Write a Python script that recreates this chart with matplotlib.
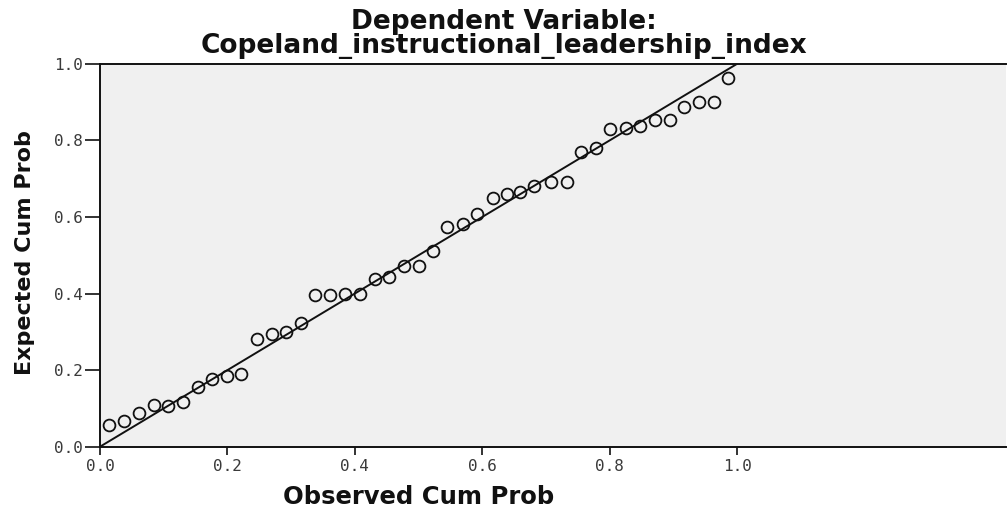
import matplotlib
matplotlib.use("Agg")
import matplotlib.pyplot as plt

observed = [0.014, 0.038, 0.061, 0.084, 0.107, 0.131, 0.153, 0.176, 0.200, 0.222,
            0.246, 0.270, 0.292, 0.315, 0.338, 0.361, 0.385, 0.408, 0.431, 0.454,
            0.477, 0.500, 0.523, 0.545, 0.569, 0.592, 0.616, 0.638, 0.659, 0.681,
            0.707, 0.732, 0.755, 0.779, 0.801, 0.825, 0.848, 0.871, 0.895, 0.917,
            0.940, 0.963, 0.986]
expected = [0.057, 0.068, 0.089, 0.109, 0.107, 0.116, 0.157, 0.176, 0.185, 0.190,
            0.282, 0.295, 0.300, 0.324, 0.395, 0.397, 0.400, 0.399, 0.438, 0.443,
            0.472, 0.473, 0.512, 0.573, 0.581, 0.608, 0.649, 0.659, 0.666, 0.681,
            0.691, 0.691, 0.769, 0.781, 0.829, 0.832, 0.838, 0.852, 0.852, 0.886,
            0.899, 0.901, 0.962]
ref_line = [0.0, 1.0]
ticks = [0.0, 0.2, 0.4, 0.6, 0.8, 1.0]
tick_labels = ["0.0", "0.2", "0.4", "0.6", "0.8", "1.0"]
title_lines = ["Dependent Variable:", "Copeland_instructional_leadership_index"]
x_label = "Observed Cum Prob"
y_label = "Expected Cum Prob"

plt.rcParams['font.family'] = ['DejaVu Sans']

W, H = 1008, 508
fig = plt.figure(figsize=(W / 100, H / 100), dpi=100)
ax = fig.add_axes([100 / W, 61.3 / H, 906 / W, 383 / H])
ax.set_facecolor('#f0f0f0')

ax.plot(ref_line, ref_line, color='#111111', lw=1.4, zorder=2)
ax.plot(observed, expected, linestyle='none', marker='o', markersize=8.5,
        markerfacecolor='none', markeredgecolor='#111111', markeredgewidth=1.3, zorder=3)

ax.set_xlim(0, 906 / 637.3)
ax.set_ylim(0, 1.0)
ax.set_xticks(ticks)
ax.set_xticklabels(tick_labels, family='DejaVu Sans Mono')
ax.set_yticks(ticks)
ax.set_yticklabels(tick_labels, family='DejaVu Sans Mono')
ax.tick_params(direction='out', width=1.2, colors='#111111',
               labelcolor='#3a3a3a', labelsize=11.5)
ax.tick_params(axis='y', length=11, pad=1.5)
ax.tick_params(axis='x', length=5.5, pad=3.5)
for s in ['left', 'bottom', 'top']:
    ax.spines[s].set_linewidth(1.4)
    ax.spines[s].set_color('#111111')
ax.spines['right'].set_visible(False)

fig.text(0.5, 1 - 29 / H, title_lines[0], ha='center', va='baseline',
         fontsize=19, fontweight='bold', color='#111111')
fig.text(0.5, 1 - 53 / H, title_lines[1], ha='center', va='baseline',
         fontsize=19, fontweight='bold', color='#111111')
fig.text(419 / W, 1 - 504 / H, x_label, ha='center', va='baseline',
         fontsize=17.5, fontweight='bold', color='#111111')
yl = fig.text(25 / W, 1 - 253 / H, y_label, rotation=90, ha='center', va='center',
              fontsize=15, fontweight='bold', color='#111111')

# fit the y label length to the span measured on the reference
fig.canvas.draw()
r = fig.canvas.get_renderer()
hy = yl.get_window_extent(r).height
yl.set_fontsize(15 * 245 / hy)

fig.savefig("out.png", dpi=100)
